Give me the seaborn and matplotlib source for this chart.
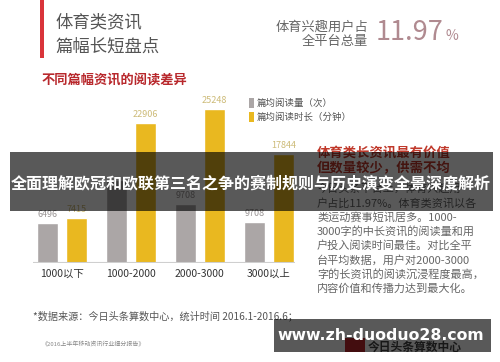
import numpy as np
import matplotlib.pyplot as plt
import matplotlib.patches as mpatches
import seaborn as sns
import pandas as pd

groups = ['1000以下', '1000-2000', '2000-3000', '3000以上']
read_count = [6496, 13600, 9708, 6708]        # 篇均阅读量（次）, bar heights as drawn
read_count_labels = ['6496', '', '9708', '9708']
read_time = [7415, 22906, 25248, 17844]        # 篇均阅读时长（分钟）
series_names = ['篇均阅读量（次）', '篇均阅读时长（分钟）']

body_lines = ['今日头条平台上，体育兴趣用',
              '户占比11.97%。体育类资讯以各',
              '类运动赛事短讯居多。1000-',
              '3000字的中长资讯的阅读量和用',
              '户投入阅读时间最佳。对比全平',
              '台平均数据，用户对2000-3000',
              '字的长资讯的阅读沉浸程度最高，',
              '内容价值和传播力达到最大化。']

gray = '#aba6a6'
gold = '#e9b820'

df = pd.DataFrame({
    'group': groups * 2,
    'series': [series_names[0]] * 4 + [series_names[1]] * 4,
    'value': read_count + read_time,
})

sns.set_theme(style='white')
plt.rcParams['font.family'] = ['Noto Sans CJK SC', 'DejaVu Sans']

W, H = 500, 362
fig = plt.figure(figsize=(5, 3.62), dpi=100)
fig.patch.set_facecolor('white')

def fx(x):
    return x / W

def fy(y):
    return 1 - y / H

# bar chart area
ax = fig.add_axes([fx(33), fy(263), 262 / W, 163 / H])
sns.barplot(data=df, x='group', y='value', hue='series', palette=[gray, gold],
            width=0.84, gap=0.29, saturation=1, legend=False, ax=ax)
ax.set_ylim(0, 26723)
ax.set_xlim(-0.42, 3.38)
sns.despine(ax=ax, left=True, bottom=True)
ax.axhline(0, color='#cfcfcf', lw=1.5)
ax.set_xlabel('')
ax.set_ylabel('')
ax.set_yticks([])
ax.tick_params(axis='x', length=0, labelsize=7.5, colors='#333333', pad=4)
ax.set_facecolor('none')

ax.bar_label(ax.containers[0], labels=read_count_labels, padding=3, fontsize=6.5, color='#9a9595')
ax.bar_label(ax.containers[1], labels=[str(v) for v in read_time], padding=3, fontsize=6.5, color='#cdbb78')

# header
fig.add_artist(mpatches.Rectangle((fx(40), fy(58)), 4 / W, 58 / H, transform=fig.transFigure,
                                  color='#d9343a', lw=0))
fig.text(fx(55), fy(22), '体育类资讯', fontsize=12.5, color='#555555', va='center', fontweight='light')
fig.text(fx(55), fy(47), '篇幅长短盘点', fontsize=12.5, color='#555555', va='center', fontweight='light')
fig.text(fx(368), fy(27), '体育兴趣用户占', fontsize=9.5, color='#666666', va='center', ha='right')
fig.text(fx(368), fy(42), '全平台总量', fontsize=9.5, color='#666666', va='center', ha='right')
big = fig.text(fx(376), fy(33), '11.97', fontsize=19.5, color='#b08a90', va='center', fontweight='light')
fig.canvas.draw()
bb = big.get_window_extent()
fig.text(bb.x1 / W + 0.004, fy(36), '%', fontsize=10, color='#b08a90', va='center', fontweight='light')
fig.text(fx(42), fy(81), '不同篇幅资讯的阅读差异', fontsize=9.5, color='#b8282c', va='center', fontweight='bold')

# legend
for i, (name, c) in enumerate(zip(series_names, [gray, gold])):
    yc = 103 + 14 * i
    fig.add_artist(mpatches.Rectangle((fx(249), fy(yc + 5)), 5 / W, 10 / H, transform=fig.transFigure,
                                      color=c, lw=0))
    fig.text(fx(257), fy(yc), name, fontsize=6.8, color='#555555', va='center')

# right side text
fig.text(fx(317), fy(153), '体育类长资讯最有价值', fontsize=9.6, color='#c0392b', va='center', fontweight='bold')
fig.text(fx(317), fy(168), '但数量较少，供需不均', fontsize=9.6, color='#c0392b', va='center', fontweight='bold')
for i, line in enumerate(body_lines):
    fig.text(fx(317), fy(188.7 + 14.3 * i), line, fontsize=8, color='#666666', va='center')

# footnotes
fig.text(fx(33), fy(316), '*数据来源：今日头条算数中心，统计时间 2016.1-2016.6；', fontsize=7.3,
         color='#555555', va='center')
fig.text(fx(42), fy(344), '《2016上半年移动资讯行业细分报告》', fontsize=4.3, color='#888888', va='center')

# logo behind the watermark
fig.add_artist(mpatches.Rectangle((fx(345), fy(352)), 20 / W, 14 / H, transform=fig.transFigure,
                                  color='#c0262c', lw=0))
fig.text(fx(368), fy(347), '今日头条算数中心', fontsize=8.5, color='#444444', va='center', fontweight='bold')

# overlay banners
fig.add_artist(mpatches.Rectangle((fx(10), fy(211)), 483 / W, 59 / H, transform=fig.transFigure,
                                  color='black', alpha=0.65, lw=0, zorder=10))
fig.text(fx(251), fy(183), '全面理解欧冠和欧联第三名之争的赛制规则与历史演变全景深度解析', fontsize=11.5,
         color='white', va='center', ha='center', fontweight='bold', zorder=11)
fig.add_artist(mpatches.Rectangle((fx(274), fy(352)), 217 / W, 33 / H, transform=fig.transFigure,
                                  color='black', alpha=0.65, lw=0, zorder=10))
fig.text(fx(381), fy(336), 'www.zh-duoduo28.com', fontsize=11.3, color='white', va='center', ha='center',
         fontweight='bold', family=['DejaVu Sans'], zorder=11)

plt.savefig('out.png', dpi=100)
